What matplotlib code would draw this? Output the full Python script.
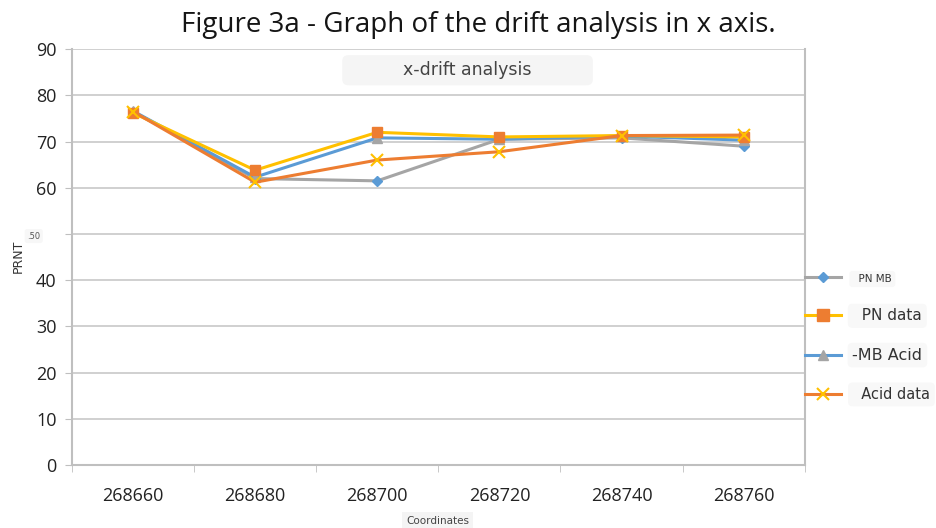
import matplotlib
matplotlib.use("Agg")
import matplotlib.pyplot as plt
from matplotlib.lines import Line2D

coords = ["268660", "268680", "268700", "268720", "268740", "268760"]
pn_mb = [76.5, 62.0, 61.5, 70.5, 70.8, 69.0]
pn_data = [76.2, 63.8, 72.0, 71.0, 71.3, 71.0]
mb_acid = [76.6, 62.3, 70.8, 70.5, 71.2, 70.3]
acid_data = [76.5, 61.2, 66.0, 67.8, 71.3, 71.4]
yticks = [0, 10, 20, 30, 40, 50, 60, 70, 80, 90]
ylabels = ["0", "10", "20", "30", "40", "", "60", "70", "80", "90"]

plt.rcParams["font.family"] = ["Lato", "DejaVu Sans"]

fig = plt.figure(figsize=(9.37, 5.28), dpi=100)
ax = fig.add_axes([0.0768, 0.119, 0.782, 0.788])

x = list(range(len(coords)))
# line colour and marker colour deliberately mismatched, as in the original
ax.plot(x, pn_mb, color="#a5a5a5", lw=2.2, marker="D", ms=5.5, mfc="#5b9bd5", mec="#5b9bd5", zorder=3)
ax.plot(x, mb_acid, color="#5b9bd5", lw=2.2, marker="^", ms=7, mfc="#a5a5a5", mec="#a5a5a5", zorder=4)
ax.plot(x, pn_data, color="#ffc000", lw=2.2, marker="s", ms=7.5, mfc="#ed7d31", mec="#ed7d31", zorder=5)
ax.plot(x, acid_data, color="#ed7d31", lw=2.2, marker="x", ms=8, mew=1.5, mfc="#ffc000", mec="#ffc000", zorder=6)

ax.set_xlim(-0.5, len(coords) - 0.5)
ax.set_ylim(0, 90)
ax.set_xticks(x)
ax.set_xticklabels(coords, fontsize=13, color="#222222", family="Open Sans")
ax.set_xticks([i - 0.5 for i in range(len(coords) + 1)], minor=True)
ax.tick_params(axis="x", which="major", length=0, pad=16)
ax.tick_params(axis="x", which="minor", length=5, color="#bfbfbf")
ax.set_yticks(yticks)
ax.set_yticklabels(ylabels, fontsize=13, color="#222222", family="Open Sans")
ax.tick_params(axis="y", length=5, color="#bfbfbf", pad=6)
ax.grid(axis="y", color="#c8c8c8", lw=1.2)
ax.set_axisbelow(True)
for s in ["left", "bottom", "right"]:
    ax.spines[s].set_color("#bfbfbf")
    ax.spines[s].set_linewidth(1.5)
ax.spines["top"].set_visible(False)

# odd leftovers around the y axis
fig.text(0.036, 0.553, ".50", fontsize=6, color="#555555", ha="center", va="center",
         family="DejaVu Sans",
         bbox=dict(boxstyle="round,pad=0.3", fc="#f7f7f7", ec="none"))
fig.text(0.019, 0.515, "PRNT", fontsize=9, rotation=90, ha="center", va="center",
         family="DejaVu Sans", color="#333333")
fig.text(0.467, 0.013, "Coordinates", fontsize=7.5, ha="center", va="center",
         family="DejaVu Sans", color="#444444",
         bbox=dict(boxstyle="square,pad=0.4", fc="#f4f4f4", ec="none"))

fig.text(0.51, 0.952, "Figure 3a - Graph of the drift analysis in x axis.", fontsize=20,
         ha="center", va="center", color="#151515", family="Open Sans")
fig.text(0.499, 0.867, "          x-drift analysis          ", fontsize=12.5, ha="center", va="center",
         family="DejaVu Sans", color="#444444",
         bbox=dict(boxstyle="round,pad=0.35", fc="#f5f5f5", ec="none"))

handles = [
    Line2D([], [], color="#a5a5a5", lw=2.2, marker="D", ms=5.5, mfc="#5b9bd5", mec="#5b9bd5"),
    Line2D([], [], color="#ffc000", lw=2.2, marker="s", ms=8, mfc="#ed7d31", mec="#ed7d31"),
    Line2D([], [], color="#5b9bd5", lw=2.2, marker="^", ms=7, mfc="#a5a5a5", mec="#a5a5a5"),
    Line2D([], [], color="#ed7d31", lw=2.2, marker="x", ms=8, mew=1.5, mfc="#ffc000", mec="#ffc000"),
]
leg = fig.legend(handles, ["  PN MB", "  PN data", "-MB Acid", "  Acid data"],
                 loc="upper left", bbox_to_anchor=(0.846, 0.508), frameon=False,
                 handlelength=2.6, labelspacing=1.75, handletextpad=0.8, fontsize=10)
sizes = [7.5, 11, 11.5, 10.5]
for t, s in zip(leg.get_texts(), sizes):
    t.set_fontsize(s)
    t.set_family("DejaVu Sans")
    t.set_color("#333333")
    t.set_bbox(dict(boxstyle="round,pad=0.3", fc="#f8f8f8", ec="none"))

fig.savefig("out.png", dpi=100)
